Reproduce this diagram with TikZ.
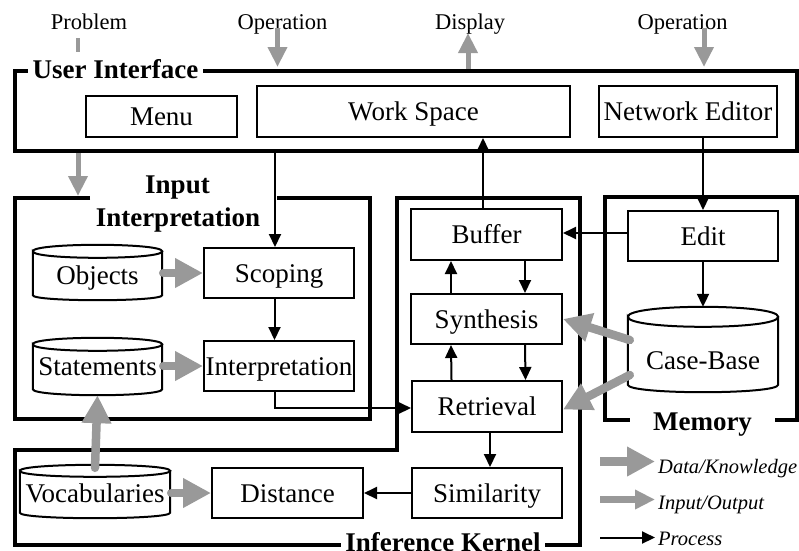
\documentclass[tikz,border=0pt]{standalone}
\usepackage{fontspec}
\setmainfont{Liberation Serif}
\usetikzlibrary{arrows.meta,calc}

\definecolor{flow}{RGB}{153,153,153}

\tikzset{
  x=1pt, y=-1pt,
  mainfont/.style={font=\fontsize{27}{30}\selectfont},
  box/.style={draw, line width=2pt, mainfont, inner sep=0pt,
    text height=18pt, text depth=0pt},
  drumnode/.style={mainfont, inner sep=0pt, text depth=0pt},
  frame/.style={draw, line width=4pt},
  title/.style={font=\fontsize{27}{30}\selectfont\bfseries, inner sep=0pt,
    text height=18pt, text depth=0pt},
  toplabel/.style={font=\fontsize{22.5}{25}\selectfont, inner sep=0pt,
    text height=15pt, text depth=0pt},
  legendtext/.style={font=\fontsize{20.5}{23}\selectfont\itshape, inner sep=0pt,
    text height=13.5pt, text depth=0pt, anchor=west},
  proc/.style={line width=2pt, -{Triangle[length=13pt,width=12pt]}},
  io/.style={flow, line width=5pt, -{Triangle[length=20pt,width=18.5pt]}},
  data/.style={flow, line width=8.5pt, line cap=round,
    -{Triangle[length=28pt,width=28pt]}},
}

% cylinder outline around a node: #1 node, #2 top radius, #3 bottom radius
\newcommand\drum[3]{%
  \draw[line width=2pt]
    let \p1=(#1.north west), \p2=(#1.south east) in
    (\x1,{\y1-#2pt}) .. controls (\x1,{\y1-#2pt+1.3333*#2pt}) and (\x2,{\y1-#2pt+1.3333*#2pt}) .. (\x2,{\y1-#2pt})
    .. controls (\x2,{\y1-#2pt-1.3333*#2pt}) and (\x1,{\y1-#2pt-1.3333*#2pt}) .. (\x1,{\y1-#2pt})
    -- (\x1,{\y2+#3pt})
    .. controls (\x1,{\y2+#3pt-1.3333*#3pt}) and (\x2,{\y2+#3pt-1.3333*#3pt}) .. (\x2,{\y2+#3pt})
    -- (\x2,{\y1-#2pt});
}

\begin{document}
\begin{tikzpicture}
\useasboundingbox (0,0) rectangle (799,550);

% ---------- frames ----------
\node[frame, minimum width=782.5pt, minimum height=80pt] (ui) at (405.75,111) {};
\node[title, fill=white, inner xsep=5pt, inner ysep=3pt] (uit) at (115.5,69) {User Interface};

% input interpretation frame, open at the top for its title
\draw[line width=4pt] (90,197.5) -- (14.5,197.5) -- (14.5,419) -- (370,419) -- (370,197.5) -- (276.7,197.5);
\node[title] (iia) at (177.5,184) {Input};
\node[title] (iib) at (178,217.5) {Interpretation};

% inference kernel frame (L-shaped)
\draw[line width=4pt] (397,197.5) -- (579.5,197.5) -- (579.5,545) -- (14.5,545)
  -- (14.5,449.5) -- (397,449.5) -- cycle;
\node[title, fill=white, inner xsep=4pt, inner ysep=5pt] (ikt) at (443,542) {Inference Kernel};

% memory frame
\node[frame, minimum width=192pt, minimum height=222.5pt] (mem) at (701,308.25) {};
\node[title, fill=white, inner xsep=23pt, inner ysep=4pt] (memt) at (702.5,421) {Memory};

% ---------- user interface ----------
\node[box, minimum width=151pt, minimum height=41pt] (menu) at (161.5,116.5) {Menu};
\node[box, minimum width=313pt, minimum height=51pt] (work) at (413.5,111.5) {Work Space};
\node[box, minimum width=178pt, minimum height=51pt] (neted) at (688,111.5) {Network Editor};

% ---------- input interpretation ----------
\node[drumnode, minimum width=129pt, minimum height=55pt, text height=24pt] (obj) at (97.5,272.5) {Objects};
\drum{obj}{6.5}{5}
\node[drumnode, minimum width=129pt, minimum height=57pt, text height=18pt] (stm) at (97.5,366.5) {Statements};
\drum{stm}{6.5}{6}
\node[box, minimum width=150pt, minimum height=50pt] (scop) at (279,273) {Scoping};
\node[box, minimum width=150pt, minimum height=50pt] (interp) at (279,366) {Interpretation};

% ---------- inference kernel ----------
\node[box, minimum width=151pt, minimum height=51pt] (buf) at (486.5,234.5) {Buffer};
\node[box, minimum width=151pt, minimum height=50pt] (syn) at (486.5,319) {Synthesis};
\node[box, minimum width=150pt, minimum height=51pt] (ret) at (487,406.5) {Retrieval};
\node[box, minimum width=150pt, minimum height=50pt] (sim) at (487,493) {Similarity};
\node[box, minimum width=151pt, minimum height=50pt] (dist) at (287.5,493) {Distance};
\node[drumnode, minimum width=150pt, minimum height=53pt, text height=21pt] (voc) at (95,491.5) {Vocabularies};
\drum{voc}{6}{5.5}

% ---------- memory ----------
\node[box, minimum width=150pt, minimum height=50pt] (edit) at (703,236) {Edit};
\node[drumnode, minimum width=150pt, minimum height=85pt, text height=39pt] (cb) at (703,349.5) {Case-Base};
\drum{cb}{10}{7.5}

% ---------- outside labels ----------
\node[toplabel] (prob) at (89,21.5) {Problem};
\node[toplabel] (opa) at (282.5,21.5) {Operation};
\node[toplabel] (disp) at (470,21.5) {Display};
\node[toplabel] (opb) at (682.5,21.5) {Operation};

\coordinate (pa) at (78,38);
\coordinate (pb) at (78,52);
\coordinate (pin) at (78,196);
\coordinate (opas) at (277.5,28);
\coordinate (disps) at (468,33);
\coordinate (opbs) at (704,28);

% ---------- input / output ----------
\draw[flow, line width=4.7pt] (pa) -- (pb);
\draw[io] (pin |- ui.south) -- (pin);
\draw[io, shorten >=2pt] (opas) -- (opas |- ui.north);
\draw[io] (disps |- ui.north) -- (disps);
\draw[io, shorten >=2pt] (opbs) -- (opbs |- ui.north);

% ---------- process ----------
\draw[proc] ([xshift=-4pt]scop.north |- ui.south) -- ([xshift=-4pt]scop.north);
\draw[proc] ([xshift=-4.5pt]scop.south) -- ([xshift=-4.5pt]interp.north);
\draw[proc] ([xshift=-4.5pt]interp.south) |- ([yshift=-1.5pt]ret.west);
\draw[proc] ([xshift=-3.5pt]buf.north) -- ([xshift=-3.5pt]buf.north |- work.south);
\draw[proc] (edit.north |- neted.south) -- (edit.north);
\draw[proc] ([yshift=3pt]edit.west) -- ([yshift=3pt]edit.west -| buf.east);
\draw[proc] ([xshift=38.5pt]buf.south) -- ([xshift=38.5pt]syn.north);
\draw[proc] ([xshift=-35.5pt]syn.north) -- ([xshift=-35.5pt]buf.south);
\draw[proc] ([xshift=38.5pt]syn.south) -- ([xshift=38.5pt]ret.north);
\draw[proc] ([xshift=-35.5pt]ret.north) -- ([xshift=-35.5pt]syn.south);
\draw[proc] ([xshift=3pt]ret.south) -- ([xshift=3pt]sim.north);
\draw[proc] (sim.west) -- (dist.east);
\draw[proc] (edit.south) -- (cb.north);

% ---------- data / knowledge ----------
\draw[data] ([xshift=1pt]obj.east |- scop.west) -- (scop.west);
\draw[data] ([xshift=1pt]stm.east |- interp.west) -- (interp.west);
\draw[data] ([xshift=1pt]voc.east |- dist.west) -- (dist.west);
\draw[data] ([yshift=-3pt]voc.north) -- (stm.south);
\draw[data] ($(cb.west)+(2,-9.5)$) -- (syn.east);
\draw[data] ($(cb.west)+(2,25.5)$) -- ([yshift=-3pt]ret.east);

% ---------- legend ----------
\node[legendtext] (lga) at (658,466.5) {Data/Knowledge};
\node[legendtext] (lgb) at (658,503) {Input/Output};
\node[legendtext] (lgc) at (658,538.5) {Process};
\coordinate (la) at (600,461.5);
\coordinate (lb) at (600,499.5);
\coordinate (lc) at (600,537.5);
\draw[data, line width=9pt, line cap=butt] (la) -- ([xshift=-3pt]la -| lga.west);
\draw[io, line width=6.5pt] (lb) -- ([xshift=-3pt]lb -| lgb.west);
\draw[proc] (lc) -- ([xshift=-3pt]lc -| lgc.west);
\end{tikzpicture}
\end{document}
